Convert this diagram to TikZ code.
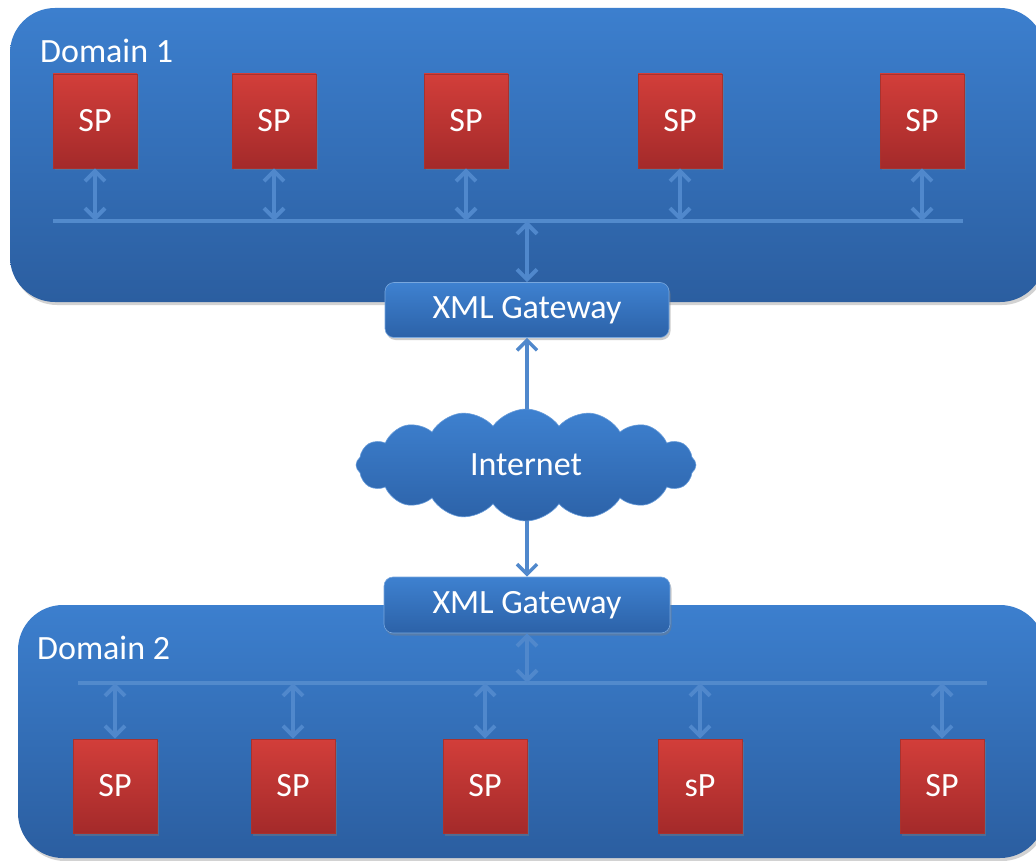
\documentclass[tikz,border=0pt]{standalone}
\usepackage{fontspec}
\setmainfont{Carlito}
\usetikzlibrary{arrows.meta,shapes.symbols,shadows}
\definecolor{domtop}{RGB}{60,127,206}
\definecolor{dombot}{RGB}{43,94,160}
\definecolor{gwtop}{RGB}{62,129,208}
\definecolor{gwbot}{RGB}{44,98,168}
\definecolor{sptop}{RGB}{210,62,58}
\definecolor{spbot}{RGB}{164,42,42}
\definecolor{arrowblue}{RGB}{80,136,204}
\definecolor{busblue}{RGB}{82,138,204}
\tikzset{
  domainbox/.style={rounded corners=45pt, top color=domtop, bottom color=dombot, draw=none,
    drop shadow={opacity=0.35, shadow xshift=2pt, shadow yshift=-3pt}},
  spbox/.style={rectangle, minimum width=84pt, minimum height=94pt, inner sep=0pt,
    top color=sptop, bottom color=spbot, draw=sptop!80!black, line width=0.6pt,
    text=white, font=\fontsize{34}{38}\selectfont,
    drop shadow={opacity=0.4, shadow xshift=1.5pt, shadow yshift=-2.5pt}},
  gwbox/.style={rectangle, rounded corners=9pt, minimum width=284pt, minimum height=55pt, inner sep=0pt,
    top color=gwtop, bottom color=gwbot, draw=gwtop!70!white, line width=0.6pt,
    text=white, font=\fontsize{34}{38}\selectfont,
    drop shadow={opacity=0.4, shadow xshift=1.5pt, shadow yshift=-2.5pt}},
  cloudnode/.style={cloud, cloud puffs=16, cloud puff arc=110, aspect=3,
    minimum width=340pt, minimum height=112pt, inner sep=0pt,
    top color=gwtop, bottom color=gwbot, draw=gwtop!80!white, line width=0.6pt,
    text=white, font=\fontsize{34}{38}\selectfont},
  domlabel/.style={anchor=west, text=white, inner sep=0pt, font=\fontsize{34}{38}\selectfont},
  bus/.style={line width=3.5pt, busblue},
  link/.style={line width=4pt, arrowblue, {Straight Barb[length=10pt,width=20pt]}-{Straight Barb[length=10pt,width=20pt]}},
  oneway/.style={line width=3.5pt, arrowblue, -{Straight Barb[length=10pt,width=20pt]}}
}
\begin{document}
\begin{tikzpicture}[x=1pt,y=-1pt]
\useasboundingbox (0,0) rectangle (1036,861);
\fill[white] (0,0) rectangle (1036,861);
% domains
\path[domainbox] (10,8) rectangle (1045,302);
\path[domainbox] (18,605) rectangle (1045,858);
\node[domlabel] (d1) at (40,51) {Domain 1};
\node[domlabel] (d2) at (37,648) {Domain 2};
% SP boxes domain 1
\node[spbox] (a1) at (95,121) {SP};
\node[spbox] (a2) at (274,121) {SP};
\node[spbox] (a3) at (466,121) {SP};
\node[spbox] (a4) at (680,121) {SP};
\node[spbox] (a5) at (922,121) {SP};
% bus 1
\coordinate (b1l) at (53,221);
\coordinate (b1r) at (963,221);
\draw[bus] (b1l) -- (b1r);
\foreach \n in {a1,a2,a3,a4,a5}{
  \draw[link] (\n.south) -- (\n.south |- b1l);
}
% gateway 1
\node[gwbox] (g1) at (527,310) {XML Gateway};
\draw[link] (g1.north |- b1l) -- (g1.north);
% cloud
\node[cloudnode] (net) at (526,465) {Internet};
\draw[oneway] (net.north -| g1.south) -- (g1.south);
% gateway 2
\node[gwbox, minimum width=286pt, minimum height=56pt] (g2) at (527,605) {XML Gateway};
\draw[oneway] (net.south -| g2.north) -- (g2.north);
% bus 2
\coordinate (b2l) at (78,683);
\coordinate (b2r) at (987,683);
\draw[bus] (b2l) -- (b2r);
\draw[link] (g2.south) -- (g2.south |- b2l);
% SP boxes domain 2
\node[spbox] (c1) at (115,786) {SP};
\node[spbox] (c2) at (293,786) {SP};
\node[spbox] (c3) at (485,786) {SP};
\node[spbox] (c4) at (700,786) {sP};
\node[spbox] (c5) at (942,786) {SP};
\foreach \n in {c1,c2,c3,c4,c5}{
  \draw[link] (\n.north |- b2l) -- (\n.north);
}
\end{tikzpicture}
\end{document}
